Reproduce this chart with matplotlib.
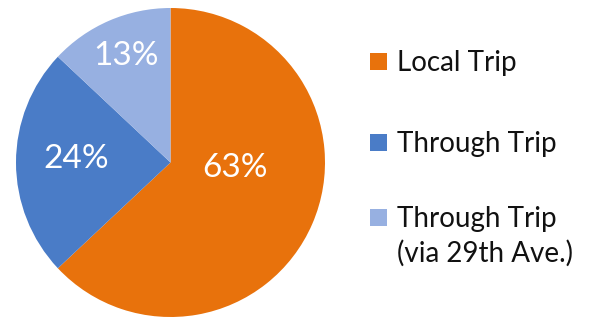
import matplotlib.pyplot as plt
from matplotlib.patches import Rectangle

# trip shares (percent), clockwise from 12 o'clock
labels = ["Local Trip", "Through Trip", "Through Trip\n(via 29th Ave.)"]
shares = [63, 24, 13]
colors = ["#E8720C", "#4A7CC7", "#97B0E1"]

# where the percentage labels sit (fraction of radius), like Excel's best fit
label_xy = [(0.42, -0.035), (-0.61, 0.02), (-0.29, 0.69)]

W, H = 602, 320
plt.rcParams['font.family'] = ['Lato', 'DejaVu Sans']

fig = plt.figure(figsize=(W / 100, H / 100), dpi=100)
ax = fig.add_axes([16 / W, 3 / H, 309 / W, 309 / H])

wedges, texts, autotexts = ax.pie(
    shares, colors=colors, startangle=90, counterclock=False,
    autopct='%d%%', textprops={'color': 'white', 'fontsize': 24})
for t, xy in zip(autotexts, label_xy):
    t.set_position(xy)
ax.set_xlim(-1, 1)
ax.set_ylim(-1, 1)
ax.set_aspect('equal')

# Legend drawn by hand so the marker lines up with the first text line
item_y = [61, 142, 217]   # pixel rows (from top) of each entry
line_gap = 35
sq = 17
for y, label, color in zip(item_y, labels, colors):
    fig.add_artist(Rectangle(
        (370 / W, 1 - (y + sq / 2) / H), sq / W, sq / H,
        transform=fig.transFigure, facecolor=color, edgecolor='none'))
    for k, line in enumerate(label.split("\n")):
        fig.text(397 / W, 1 - (y + 10 + k * line_gap) / H, line,
                 fontsize=20, color='#111111', va='baseline', ha='left')

fig.savefig("out.png", dpi=100)
